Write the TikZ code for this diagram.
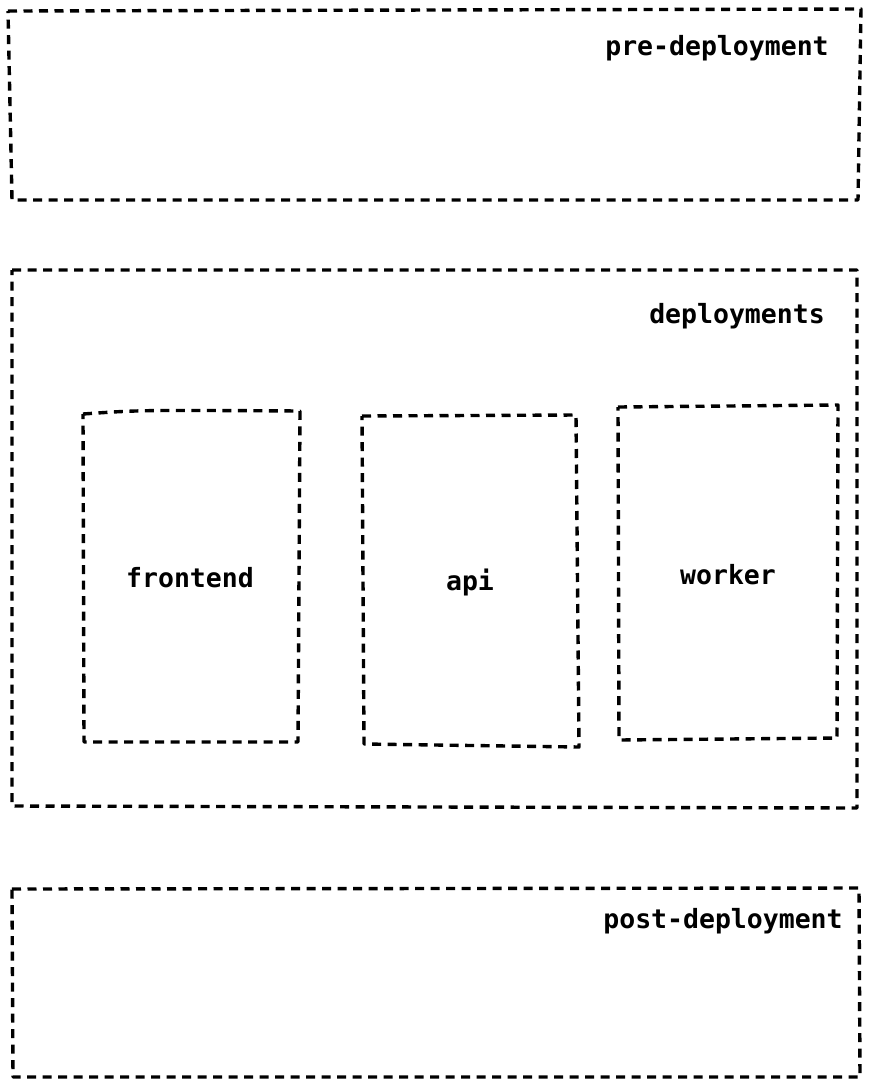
\documentclass[tikz,border=0pt]{standalone}
\usepackage{fontspec}
\setmonofont{DejaVu Sans Mono}
\usepackage{tikz}
\usetikzlibrary{positioning,calc}
\tikzset{
  stagebox/.style={draw=black,line width=3.4pt,dash pattern=on 9pt off 6.5pt,line join=round},
  svcbox/.style={draw=black,line width=3.4pt,dash pattern=on 9pt off 6.5pt,line join=round},
  stagelabel/.style={font=\ttfamily\bfseries\fontsize{26.5}{30}\selectfont,anchor=base,inner sep=0pt},
  svclabel/.style={font=\ttfamily\bfseries\fontsize{26.5}{30}\selectfont,anchor=base,inner sep=0pt}
}
\begin{document}
\begin{tikzpicture}[x=1pt,y=-1pt]
  \useasboundingbox (0,0) rectangle (870,1088);
  % stages
  \draw[stagebox] (8,11) -- (861,9) -- (858,200) -- (12,200) -- cycle;
  \node[stagelabel] (pre) at (717,55) {pre-deployment};
  \draw[stagebox] (12,270) -- (857,270) -- (857,808) -- (12,806) -- cycle;
  \node[stagelabel] (deploy) at (737,323) {deployments};
  \draw[stagebox] (12,889) -- (859,888) -- (860,1077) -- (13,1077) -- cycle;
  \node[stagelabel] (post) at (723,928) {post-deployment};
  % services
  \draw[svcbox] (83,414) .. controls (140,410) .. (300,411) -- (298,742) -- (84,742) -- cycle;
  \node[svclabel] (frontend) at (190,587) {frontend};
  \draw[svcbox] (362,416) -- (576,415) -- (579,747) -- (364,744) -- cycle;
  \node[svclabel] (api) at (470,590) {api};
  \draw[svcbox] (618,407) -- (838,405) -- (837,738) -- (619,740) -- cycle;
  \node[svclabel] (worker) at (728,584) {worker};
\end{tikzpicture}
\end{document}
